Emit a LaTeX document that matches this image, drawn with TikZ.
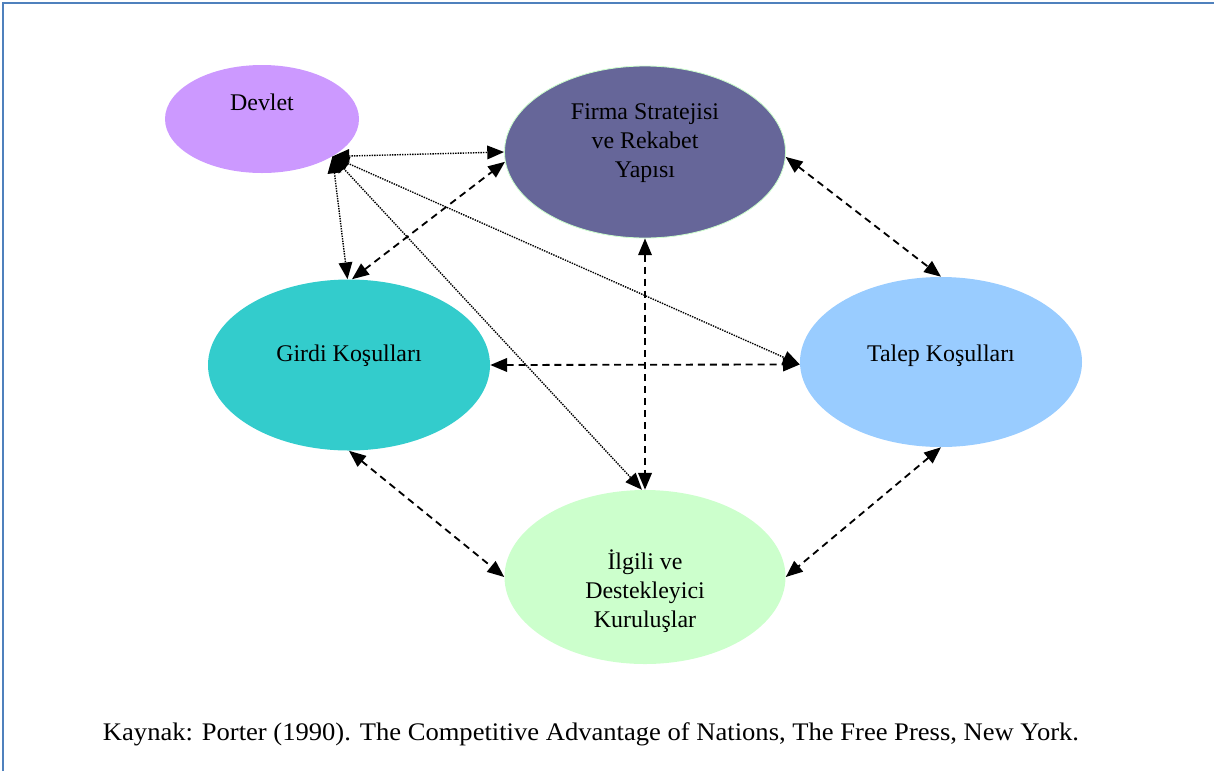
\documentclass[tikz,border=0pt]{standalone}
\usepackage{fontspec}
\setmainfont{Liberation Serif}
\usetikzlibrary{shapes.geometric,arrows.meta}
\definecolor{frameblue}{HTML}{4F81BD}
\definecolor{cDevlet}{HTML}{CC99FF}
\definecolor{cFirma}{HTML}{666699}
\definecolor{cGirdi}{HTML}{33CCCC}
\definecolor{cTalep}{HTML}{99CCFF}
\definecolor{cIlgili}{HTML}{CCFFCC}
\tikzset{
  blob/.style={ellipse, inner sep=0pt, draw=none},
  lbl/.style={anchor=base, align=center, font=\fontsize{17}{20.3}\selectfont, text=black, inner sep=0pt},
  dottedlink/.style={{Triangle[length=0.42cm,width=0.34cm]}-{Triangle[length=0.42cm,width=0.34cm]}, line width=1pt, dash pattern=on 1pt off 0.8pt},
  dashedlink/.style={{Triangle[length=0.42cm,width=0.34cm]}-{Triangle[length=0.42cm,width=0.34cm]}, line width=1.3pt, dash pattern=on 5pt off 3.5pt},
}
\begin{document}
\begin{tikzpicture}[x=0.025cm,y=-0.025cm]
\useasboundingbox (0,0) rectangle (1214,771);
\draw[frameblue, line width=1.6pt] (3,771) -- (3,3) -- (1214,3);
% ellipses
\node[blob, fill=cDevlet, minimum width=194*0.025cm, minimum height=108*0.025cm] (devlet) at (262,119) {};
\node[blob, fill=cFirma, draw=cIlgili, line width=0.6pt, minimum width=281*0.025cm, minimum height=172*0.025cm] (firma) at (645,152) {};
\node[blob, fill=cGirdi, minimum width=282*0.025cm, minimum height=171*0.025cm] (girdi) at (349,365) {};
\node[blob, fill=cTalep, minimum width=282*0.025cm, minimum height=170*0.025cm] (talep) at (941,362) {};
\node[blob, fill=cIlgili, minimum width=281*0.025cm, minimum height=174*0.025cm] (ilgili) at (645,577) {};
% labels (base anchor = last line baseline)
\node[lbl] (tdevlet) at (262,110) {Devlet};
\node[lbl] (tfirma) at (645,177) {Firma Stratejisi\\ve Rekabet\\Yapısı};
\node[lbl] (tgirdi) at (349,361) {Girdi Koşulları};
\node[lbl] (ttalep) at (941,361) {Talep Koşulları};
\node[lbl] (tilgili) at (645,627) {İlgili ve\\Destekleyici\\Kuruluşlar};
% dotted links from Devlet
\draw[dottedlink] (devlet.-28) -- (firma.180);
\draw[dottedlink] (devlet.-28) -- (girdi.91);
\draw[dottedlink] (devlet.-28) -- (talep.181.2);
\draw[dottedlink] (devlet.-28) -- (ilgili.92);
% dashed links
\draw[dashedlink] (girdi.88) -- (firma.184);
\draw[dashedlink] (firma.-2) -- (talep.90);
\draw[dashedlink] (girdi.0) -- (talep.181.2);
\draw[dashedlink] (firma.-90) -- (ilgili.90);
\draw[dashedlink] (girdi.-90) -- (ilgili.180);
\draw[dashedlink] (talep.-90) -- (ilgili.0);
% caption
\node[anchor=base, inner sep=0pt, font=\fontsize{18}{21}\selectfont] (caption) at (591,740) {\scalebox{1.05}[1]{Kaynak: Porter (1990). The Competitive Advantage of Nations, The Free Press, New York.}};
\end{tikzpicture}
\end{document}
